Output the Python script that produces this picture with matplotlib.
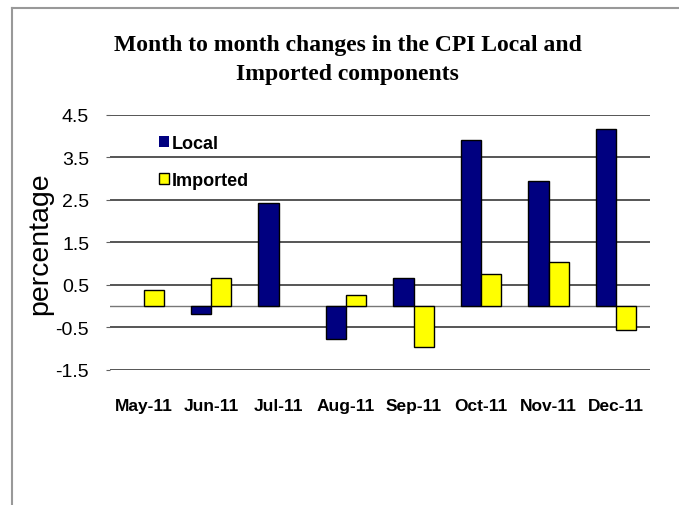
import matplotlib.pyplot as plt
import numpy as np
from matplotlib.lines import Line2D

months = ['May-11', 'Jun-11', 'Jul-11', 'Aug-11', 'Sep-11', 'Oct-11', 'Nov-11', 'Dec-11']
local = [0.0, -0.19, 2.43, -0.77, 0.67, 3.90, 2.95, 4.18]
imported = [0.38, 0.66, 0.0, 0.27, -0.95, 0.76, 1.03, -0.55]
yticks = [-1.5, -0.5, 0.5, 1.5, 2.5, 3.5, 4.5]

fig = plt.figure(figsize=(6.79, 5.06), dpi=100)
ax = fig.add_axes([0.162, 0.2668, 0.795, 0.504])

x = np.arange(len(months))
w = 0.3
# no outline on empty bars
lw_local = [0 if v == 0 else 1.0 for v in local]
lw_imp = [0 if v == 0 else 1.0 for v in imported]
ax.bar(x - w / 2, local, w, color='#000080', edgecolor='black', linewidth=lw_local,
       label='Local', zorder=3)
ax.bar(x + w / 2, imported, w, color='#FFFF00', edgecolor='black', linewidth=lw_imp,
       label='Imported', zorder=3)

ax.set_xlim(-0.5, len(months) - 0.5)
ax.set_ylim(-1.5, 4.5)
ax.set_yticks(yticks)
ax.set_yticklabels([f'{v:.1f}' for v in yticks], fontsize=14, family='Liberation Sans')
ax.set_xticks(x)
ax.set_xticklabels(months, fontsize=12.5, fontweight='bold', family='Liberation Sans')
ax.tick_params(axis='x', length=0, pad=20)
ax.tick_params(axis='y', length=3, pad=12, color='#606060')

ax.grid(axis='y', color='#555555', linewidth=1.4, zorder=0)
ax.axhline(0, color='#777777', linewidth=1.0, zorder=1)
for s in ax.spines.values():
    s.set_visible(False)

ax.set_ylabel('percentage', fontsize=20.5, family='Liberation Sans', labelpad=2)

ax.legend(loc='upper left', bbox_to_anchor=(0.06, 0.985), frameon=False,
          prop={'family': 'Liberation Sans', 'weight': 'bold', 'size': 13},
          handlelength=0.55, handleheight=0.55, handletextpad=0.2, labelspacing=1.1)

fig.text(0.512, 0.911, 'Month to month changes in the CPI Local and',
         ha='center', va='center', fontsize=17, fontweight='bold', family='Liberation Serif')
fig.text(0.512, 0.853, 'Imported components',
         ha='center', va='center', fontsize=17, fontweight='bold', family='Liberation Serif')

# outer chart frame (left and top edges visible)
fig.add_artist(Line2D([12 / 679, 12 / 679], [0, 1 - 9 / 506], color='#999999', linewidth=1.5))
fig.add_artist(Line2D([12 / 679, 1], [1 - 9 / 506, 1 - 9 / 506], color='#999999', linewidth=1.5))

fig.savefig('out.png', dpi=100)
